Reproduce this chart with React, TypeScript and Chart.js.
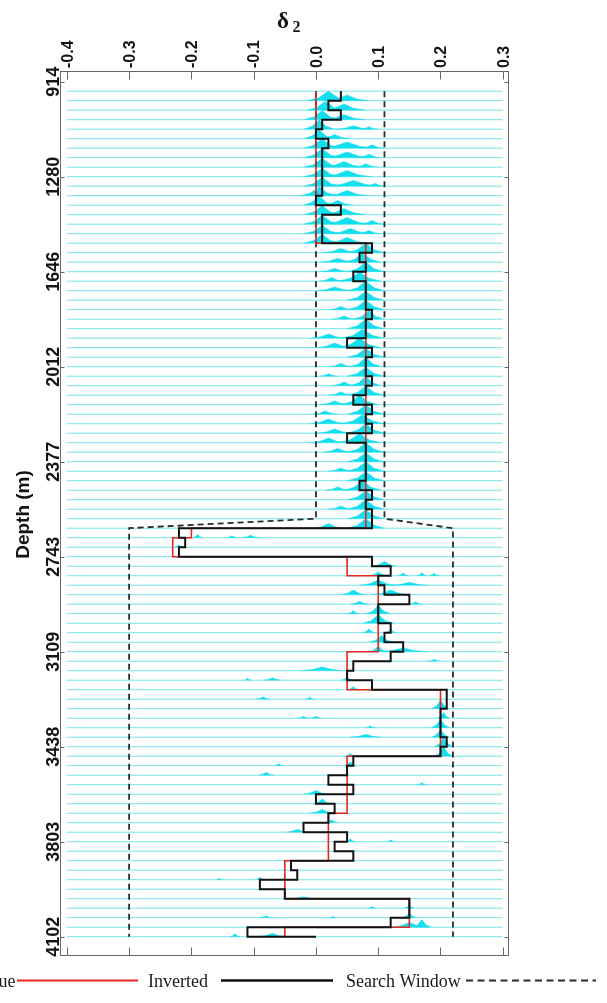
import React, { useEffect, useRef } from 'react';
import { Chart, registerables } from 'chart.js';

Chart.register(...registerables);

// Depth axis: ticks are layer indices, labelled with depths (m)
const depthTickIndex = [0, 10, 20, 30, 40, 50, 60, 70, 80, 90];
const depthTickLabels = ['914', '1280', '1646', '2012', '2377', '2743', '3109', '3438', '3803', '4102'];

// delta_2 axis ticks
const deltaTicks = [-0.4, -0.3, -0.2, -0.1, 0, 0.1, 0.2, 0.3];
const deltaTickLabels = ['-0.4', '-0.3', '-0.2', '-0.1', '0.0', '0.1', '0.2', '0.3'];

// Layer values for layers 1..89, last entry = value at boundary 90
const trueValues = [
  0, 0, 0, 0, 0, 0, 0, 0, 0, 0, 0, 0, 0, 0, 0, 0,
  0.08, 0.08, 0.08, 0.08, 0.08, 0.08, 0.08, 0.08, 0.08, 0.08,
  0.08, 0.08, 0.08, 0.08, 0.08, 0.08, 0.08, 0.08, 0.08, 0.08,
  0.08, 0.08, 0.08, 0.08, 0.08, 0.08, 0.08, 0.08, 0.08, 0.08,
  -0.2, -0.23, -0.23,
  0.05, 0.05,
  0.1, 0.1, 0.1, 0.1, 0.1, 0.1, 0.1, 0.1,
  0.05, 0.05, 0.05, 0.05,
  0.2, 0.2, 0.2, 0.2, 0.2, 0.2, 0.2,
  0.05, 0.05, 0.05, 0.05, 0.05, 0.05,
  0.02, 0.02, 0.02, 0.02, 0.02,
  -0.05, -0.05, -0.05, -0.05,
  0.15, 0.15, 0.15,
  -0.05,
  -0.05,
];

const invertedValues = [
  0.04, 0.02, 0.04, 0.01, 0.0, 0.02, 0.01, 0.01, 0.01, 0.01,
  0.01, 0.0, 0.04, 0.01, 0.01, 0.01, 0.09, 0.07, 0.08, 0.06,
  0.08, 0.08, 0.08, 0.09, 0.08, 0.08, 0.05, 0.09, 0.08, 0.08,
  0.09, 0.08, 0.06, 0.09, 0.08, 0.09, 0.05, 0.08, 0.08, 0.08,
  0.08, 0.07, 0.09, 0.08, 0.09, 0.09, -0.22, -0.21, -0.22, 0.09,
  0.12, 0.1, 0.11, 0.15, 0.1, 0.1, 0.12, 0.11, 0.14, 0.12,
  0.06, 0.05, 0.09, 0.21, 0.21, 0.2, 0.2, 0.2, 0.21, 0.2,
  0.06, 0.05, 0.02, 0.06, 0.0, 0.03, 0.02, -0.02, 0.05, 0.03,
  0.06, -0.04, -0.03, -0.09, -0.05, 0.15, 0.15, 0.12, -0.11,
  0.0,
];

// Search window breakpoints (layer index, lower bound, upper bound)
const windowIdx = [1, 46, 47, 90];
const windowLow = [0, 0, -0.3, -0.3];
const windowHigh = [0.11, 0.11, 0.22, 0.22];

// Posterior histogram peaks per layer: [layer, centre, half width, height in layer units]
const peaksUpper: number[][] = [
  [1, 0.02, 0.035, 1.0], [1, 0.05, 0.035, 0.6],
  [2, 0.015, 0.03, 0.95], [2, 0.045, 0.035, 0.65],
  [3, 0.01, 0.03, 0.95], [3, 0.045, 0.035, 0.55],
  [4, 0.005, 0.025, 1.0], [4, 0.06, 0.03, 0.35], [4, 0.085, 0.015, 0.25],
  [5, 0.005, 0.025, 0.95], [5, 0.03, 0.025, 0.45],
  [6, 0.01, 0.03, 1.0], [6, 0.05, 0.045, 0.65], [6, 0.09, 0.02, 0.35],
  [7, 0.01, 0.03, 0.95], [7, 0.05, 0.04, 0.6], [7, 0.085, 0.02, 0.35],
  [8, 0.01, 0.03, 0.95], [8, 0.045, 0.035, 0.6], [8, 0.08, 0.02, 0.35],
  [9, 0.01, 0.03, 0.9], [9, 0.05, 0.04, 0.65],
  [10, 0.01, 0.03, 0.95], [10, 0.06, 0.045, 0.6], [10, 0.095, 0.015, 0.3],
  [11, 0.005, 0.03, 0.95], [11, 0.05, 0.035, 0.55],
  [12, 0.005, 0.025, 1.0], [12, 0.035, 0.025, 0.5],
  [13, 0.01, 0.03, 0.95], [13, 0.045, 0.035, 0.65],
  [14, 0.01, 0.03, 0.95], [14, 0.05, 0.04, 0.7], [14, 0.09, 0.02, 0.4],
  [15, 0.01, 0.03, 0.9], [15, 0.055, 0.035, 0.55], [15, 0.085, 0.02, 0.35],
  [16, 0.01, 0.03, 0.95], [16, 0.05, 0.035, 0.6],
  [17, 0.08, 0.03, 1.0], [17, 0.04, 0.03, 0.45],
  [18, 0.075, 0.03, 0.95], [18, 0.035, 0.03, 0.4],
  [19, 0.08, 0.03, 1.0], [19, 0.03, 0.025, 0.35],
  [20, 0.07, 0.035, 0.95], [20, 0.025, 0.02, 0.4],
  [21, 0.08, 0.03, 1.0], [21, 0.03, 0.03, 0.4],
  [22, 0.08, 0.03, 0.95],
  [23, 0.08, 0.03, 1.0], [23, 0.04, 0.02, 0.35],
  [24, 0.085, 0.025, 0.95], [24, 0.045, 0.02, 0.35],
  [25, 0.08, 0.03, 1.0],
  [26, 0.075, 0.035, 0.95], [26, 0.02, 0.03, 0.45],
  [27, 0.07, 0.035, 1.0], [27, 0.03, 0.03, 0.5],
  [28, 0.08, 0.03, 0.95],
  [29, 0.08, 0.025, 1.0], [29, 0.04, 0.02, 0.35],
  [30, 0.08, 0.03, 0.95], [30, 0.02, 0.015, 0.25],
  [31, 0.08, 0.025, 1.0], [31, 0.045, 0.02, 0.4],
  [32, 0.08, 0.03, 0.95], [32, 0.04, 0.02, 0.35],
  [33, 0.07, 0.03, 1.0], [33, 0.03, 0.025, 0.4],
  [34, 0.08, 0.03, 1.0], [34, 0.015, 0.02, 0.35],
  [35, 0.075, 0.035, 0.95], [35, 0.02, 0.03, 0.5],
  [36, 0.08, 0.03, 1.0], [36, 0.03, 0.03, 0.45],
  [37, 0.07, 0.035, 0.95], [37, 0.02, 0.03, 0.5],
  [38, 0.08, 0.03, 1.0], [38, 0.035, 0.025, 0.4],
  [39, 0.08, 0.03, 0.95],
  [40, 0.08, 0.03, 1.0], [40, 0.04, 0.02, 0.35],
  [41, 0.08, 0.03, 0.95],
  [42, 0.075, 0.03, 1.0], [42, 0.035, 0.02, 0.35],
  [43, 0.08, 0.03, 0.95],
  [44, 0.08, 0.03, 1.0], [44, 0.04, 0.02, 0.35],
  [45, 0.08, 0.03, 0.95],
  [46, 0.08, 0.03, 1.0], [46, 0.02, 0.025, 0.5],
];

const peaksLower: number[][] = [
  [47, -0.19, 0.008, 0.35], [47, -0.135, 0.01, 0.2], [47, -0.105, 0.015, 0.25],
  [48, -0.22, 0.008, 0.25],
  [50, 0.11, 0.02, 0.5],
  [51, 0.1, 0.015, 0.4], [51, 0.14, 0.008, 0.3], [51, 0.17, 0.008, 0.3], [51, 0.19, 0.008, 0.25],
  [52, 0.1, 0.03, 0.55], [52, 0.15, 0.03, 0.3],
  [53, 0.06, 0.02, 0.5], [53, 0.12, 0.03, 0.5],
  [54, 0.07, 0.015, 0.3], [54, 0.16, 0.01, 0.25],
  [55, 0.1, 0.02, 0.9], [55, 0.06, 0.01, 0.3],
  [56, 0.1, 0.025, 0.9],
  [57, 0.085, 0.01, 0.4], [57, 0.12, 0.01, 0.3],
  [58, 0.105, 0.02, 0.7],
  [59, 0.1, 0.015, 0.6], [59, 0.14, 0.04, 0.4],
  [60, 0.19, 0.01, 0.2],
  [61, 0.01, 0.035, 0.4],
  [62, -0.11, 0.006, 0.2], [62, -0.07, 0.015, 0.25], [62, 0.05, 0.01, 0.3],
  [63, 0.06, 0.01, 0.3],
  [64, -0.085, 0.012, 0.25], [64, -0.01, 0.008, 0.2],
  [65, 0.2, 0.015, 0.9],
  [66, -0.02, 0.01, 0.2], [66, 0.0, 0.01, 0.2], [66, 0.205, 0.01, 0.6],
  [67, 0.2, 0.015, 0.9], [67, 0.087, 0.008, 0.2],
  [68, 0.08, 0.025, 0.3], [68, 0.2, 0.015, 0.8],
  [69, 0.205, 0.015, 1.0],
  [70, 0.205, 0.015, 1.0], [70, 0.055, 0.01, 0.25],
  [71, -0.06, 0.008, 0.2], [71, 0.055, 0.01, 0.4],
  [72, -0.08, 0.012, 0.3],
  [73, 0.17, 0.008, 0.2],
  [74, 0.0, 0.02, 0.4],
  [75, 0.01, 0.015, 0.5],
  [76, 0.01, 0.02, 0.4],
  [77, 0.025, 0.01, 0.3],
  [78, -0.03, 0.018, 0.3],
  [79, 0.055, 0.008, 0.3], [79, 0.12, 0.006, 0.2],
  [83, -0.09, 0.008, 0.25], [83, -0.155, 0.005, 0.15],
  [85, -0.02, 0.025, 0.2],
  [86, 0.09, 0.006, 0.2], [86, 0.15, 0.008, 0.4],
  [87, -0.08, 0.012, 0.2], [87, 0.027, 0.005, 0.15], [87, 0.15, 0.012, 0.5],
  [88, 0.15, 0.03, 0.5], [88, 0.17, 0.015, 0.8],
  [89, -0.13, 0.008, 0.3], [89, -0.07, 0.025, 0.35],
];

const baselineFrom = -0.4;
const baselineTo = 0.3;

const RED = '#e3261f';
const BLACK = '#111111';
const DASH = '#2a2a2a';
const CYAN_FILL = '#14dfee';
const CYAN_LINE = 'rgba(20, 210, 222, 0.6)';

function buildDatasets() {
  const sets: any[] = [];
  // baselines 1..90
  trueValues.forEach((_, i) => {
    const j = i + 1;
    sets.push({
      data: [{ x: baselineFrom, y: j }, { x: baselineTo, y: j }],
      borderColor: CYAN_LINE,
      borderWidth: 1,
      fill: false,
      order: 20,
    });
  });
  [...peaksUpper, ...peaksLower].forEach(([layer, c, w, h]) => {
    const base = layer + 1;
    sets.push({
      data: [
        { x: c - w, y: base },
        { x: c - 0.45 * w, y: base - 0.3 * h },
        { x: c, y: base - h },
        { x: c + 0.45 * w, y: base - 0.3 * h },
        { x: c + w, y: base },
      ],
      borderColor: CYAN_FILL,
      borderWidth: 0.5,
      backgroundColor: CYAN_FILL,
      fill: { value: base },
      order: 15,
    });
  });
  sets.push({
    data: windowIdx.map((k, i) => ({ x: windowLow[i], y: k })),
    borderColor: DASH, borderWidth: 1.8, borderDash: [6, 4], fill: false, order: 3,
  });
  sets.push({
    data: windowIdx.map((k, i) => ({ x: windowHigh[i], y: k })),
    borderColor: DASH, borderWidth: 1.8, borderDash: [6, 4], fill: false, order: 3,
  });
  sets.push({
    data: trueValues.map((v, i) => ({ x: v, y: i + 1 })),
    borderColor: RED, borderWidth: 1.6, stepped: 'after', fill: false, order: 2,
  });
  sets.push({
    data: invertedValues.map((v, i) => ({ x: v, y: i + 1 })),
    borderColor: BLACK, borderWidth: 2, stepped: 'after', fill: false, order: 1,
  });
  return sets;
}

const decorPlugin = {
  id: 'decor',
  afterDraw(chart: any) {
    const { ctx, chartArea: a } = chart;
    const xs = chart.scales.x;
    const ys = chart.scales.y;
    ctx.save();
    // frame
    ctx.strokeStyle = '#666666';
    ctx.lineWidth = 1;
    const L = Math.round(a.left) + 0.5, R = Math.round(a.right) - 0.5;
    const T = Math.round(a.top) + 0.5, B = Math.round(a.bottom) - 0.5;
    ctx.strokeRect(L, T, R - L, B - T);
    ctx.beginPath();
    xs.ticks.forEach((t: any) => {
      const px = Math.round(xs.getPixelForValue(t.value)) + 0.5;
      ctx.moveTo(px, T); ctx.lineTo(px, T + 8);
      ctx.moveTo(px, B); ctx.lineTo(px, B - 8);
    });
    ys.ticks.forEach((t: any) => {
      const py = Math.round(ys.getPixelForValue(t.value)) + 0.5;
      ctx.moveTo(L, py); ctx.lineTo(L + 4, py);
      ctx.moveTo(R, py); ctx.lineTo(R - 4, py);
    });
    ctx.stroke();

    ctx.fillStyle = '#141414';
    // x tick labels (rotated)
    ctx.font = 'bold 16px "Liberation Sans"';
    ctx.textAlign = 'left';
    ctx.textBaseline = 'alphabetic';
    xs.ticks.forEach((t: any, i: number) => {
      const px = xs.getPixelForValue(t.value);
      ctx.save();
      ctx.translate(px + 5.8, a.top - 3);
      ctx.rotate(-Math.PI / 2);
      ctx.fillText(deltaTickLabels[i], 0, 0);
      ctx.restore();
    });
    // y tick labels (rotated)
    ctx.font = 'bold 18px "Liberation Sans"';
    ctx.textAlign = 'center';
    ys.ticks.forEach((t: any, i: number) => {
      const py = ys.getPixelForValue(t.value);
      ctx.save();
      ctx.translate(a.left - 1, py);
      ctx.rotate(-Math.PI / 2);
      ctx.fillText(depthTickLabels[i], 0, 0);
      ctx.restore();
    });
    // y axis title
    ctx.font = 'bold 19px "Liberation Sans"';
    ctx.save();
    ctx.translate(29, (a.top + a.bottom) / 2 + 1);
    ctx.rotate(-Math.PI / 2);
    ctx.fillText('Depth (m)', 0, 0);
    ctx.restore();
    // x axis title: delta with subscript 2
    ctx.textAlign = 'left';
    ctx.font = 'bold 23px "Liberation Serif"';
    ctx.fillText('δ', 277, 28);
    ctx.font = 'bold 16px "Liberation Serif"';
    ctx.fillText('2', 292.5, 32);

    // legend (text then sample line)
    ctx.font = '18px "Liberation Serif"';
    ctx.fillStyle = '#1a1a1a';
    const items = [
      { label: 'True', textRight: 15.5, x0: 17, x1: 138, color: RED, dash: [] as number[], w: 2 },
      { label: 'Inverted', textLeft: 148, x0: 221, x1: 333, color: BLACK, dash: [] as number[], w: 2.4 },
      { label: 'Search Window', textLeft: 346, x0: 466, x1: 596, color: DASH, dash: [7, 4.5], w: 2 },
    ];
    const baseY = 987;
    const lineY = 980.5;
    items.forEach((it: any) => {
      if (it.textRight !== undefined) {
        ctx.textAlign = 'right';
        ctx.fillText(it.label, it.textRight, baseY);
      } else {
        ctx.textAlign = 'left';
        ctx.fillText(it.label, it.textLeft, baseY);
      }
      ctx.beginPath();
      ctx.setLineDash(it.dash);
      ctx.strokeStyle = it.color;
      ctx.lineWidth = it.w;
      ctx.moveTo(it.x0, lineY);
      ctx.lineTo(it.x1, lineY);
      ctx.stroke();
      ctx.setLineDash([]);
    });
    ctx.restore();
  },
};

export default function App() {
  const ref = useRef<HTMLCanvasElement>(null);
  useEffect(() => {
    if (!ref.current) return;
    const chart = new Chart(ref.current, {
      type: 'line',
      data: { datasets: buildDatasets() },
      options: {
        responsive: false,
        animation: false,
        events: [],
        layout: { padding: { left: 0, top: 0, right: 98, bottom: 47 } },
        elements: { point: { radius: 0, hoverRadius: 0 }, line: { tension: 0 } },
        plugins: { legend: { display: false }, tooltip: { enabled: false }, title: { display: false } },
        scales: {
          x: {
            type: 'linear',
            position: 'top',
            min: -0.411,
            max: 0.31,
            grid: { display: false, drawTicks: false },
            border: { display: false },
            ticks: { display: false },
            afterBuildTicks: (s: any) => { s.ticks = deltaTicks.map((v) => ({ value: v })); },
            afterFit: (s: any) => { s.height = 71; },
          },
          y: {
            type: 'linear',
            reverse: true,
            min: -1.126,
            max: 92.03,
            grid: { display: false, drawTicks: false },
            border: { display: false },
            ticks: { display: false },
            afterBuildTicks: (s: any) => { s.ticks = depthTickIndex.map((v) => ({ value: v })); },
            afterFit: (s: any) => { s.width = 60; },
          },
        },
      } as any,
      plugins: [decorPlugin],
    });
    return () => chart.destroy();
  }, []);
  return (
    <div style={{ position: 'absolute', left: 0, top: 0, width: 607, height: 1003, background: '#fff' }}>
      <canvas ref={ref} width={607} height={1003} style={{ display: 'block' }} />
    </div>
  );
}
